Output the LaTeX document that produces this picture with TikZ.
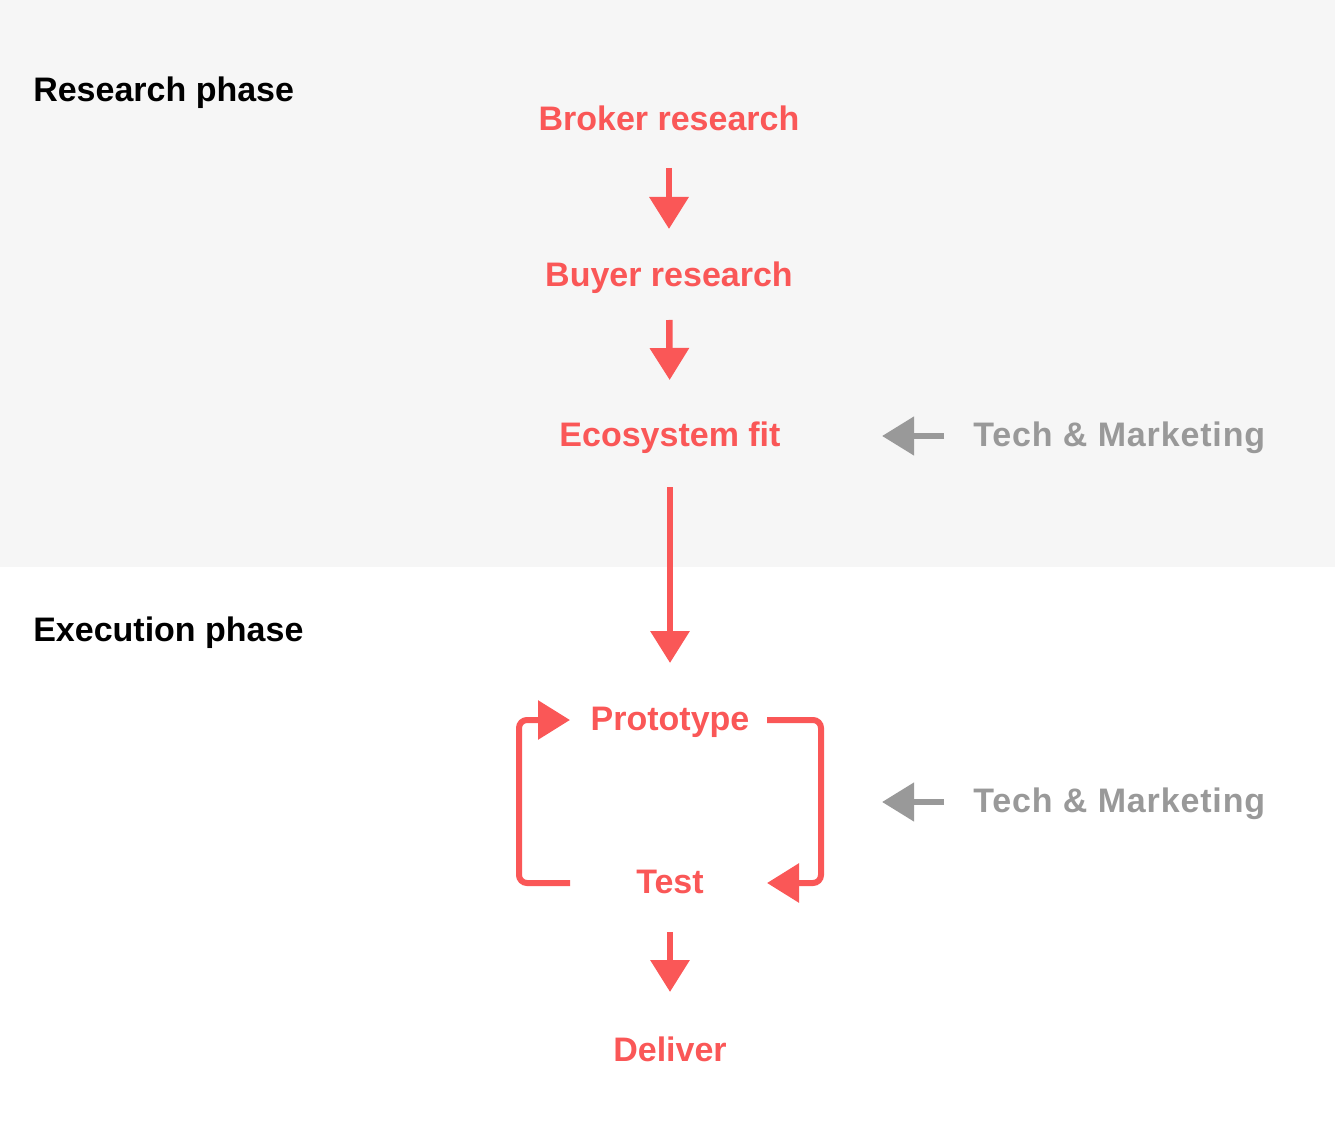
\documentclass[tikz,border=0pt]{standalone}
\usepackage{fontspec}
\setmainfont{Liberation Sans}
\usetikzlibrary{arrows.meta,calc}
\definecolor{redc}{HTML}{FA5757}
\definecolor{greyc}{HTML}{999999}
\definecolor{bgc}{HTML}{F6F6F6}
\tikzset{
  phase/.style={anchor=west,inner sep=0pt,font=\fontsize{25.5}{30}\selectfont\bfseries,text=black},
  stepbox/.style={inner sep=0pt,font=\fontsize{25.5}{30}\selectfont\bfseries,text=redc},
  side/.style={anchor=west,inner sep=0pt,font=\fontsize{25.5}{30}\selectfont\bfseries\addfontfeatures{LetterSpace=2.5},text=greyc},
  rarr/.style={draw=redc,line width=4.9pt,-{Triangle[width=28.5pt,length=24pt]},redc},
  loop/.style={draw=redc,line width=4.5pt,rounded corners=6pt,-{Triangle[width=28.5pt,length=24pt]},redc},
  garr/.style={draw=greyc,line width=4.9pt,-{Triangle[width=28pt,length=24pt]},greyc}
}
\begin{document}
\begin{tikzpicture}[x=0.75pt,y=-0.75pt]
\useasboundingbox (0,0) rectangle (1335,1137);
\fill[bgc] (0,0) rectangle (1335,567);
\node[phase] (research) at (33,93) {Research phase};
\node[phase] (execution) at (33,633) {Execution phase};
\node[stepbox] (broker) at (669,118) {Broker research};
\node[stepbox] (buyer) at (669,278) {Buyer research};
\node[stepbox] (eco) at (670,438) {Ecosystem fit};
\node[stepbox] (proto) at (670,722) {Prototype};
\node[stepbox] (test) at (670,882) {Test};
\node[stepbox] (deliver) at (670,1049) {Deliver};
\node[side] (tech1) at (973,438) {Tech \& Marketing};
\node[side] (tech2) at (973,804) {Tech \& Marketing};
\draw[rarr,shorten <=37.5pt,shorten >=36.75pt] (broker.center) -- (buyer.center);
\draw[rarr,shorten <=31.5pt,shorten >=43.5pt] (buyer.center) -- (eco.center);
\draw[rarr,shorten <=36.75pt,shorten >=44.25pt] (eco.center) -- (proto.center);
\draw[rarr,shorten <=37.5pt,shorten >=42.75pt] (test.center) -- (deliver.center);
\draw[loop] ($(test.center)+(-100,1)$) -- ++(-51,0) |- ($(proto.center)+(-100,-2)$);
\draw[loop] ($(proto.center)+(97,-2)$) -- ++(54,0) |- ($(test.center)+(97,1)$);
\draw[garr] ($(tech1.west)+(-29,-2)$) -- ++(-62,0);
\draw[garr] ($(tech2.west)+(-29,-2)$) -- ++(-62,0);
\end{tikzpicture}
\end{document}
